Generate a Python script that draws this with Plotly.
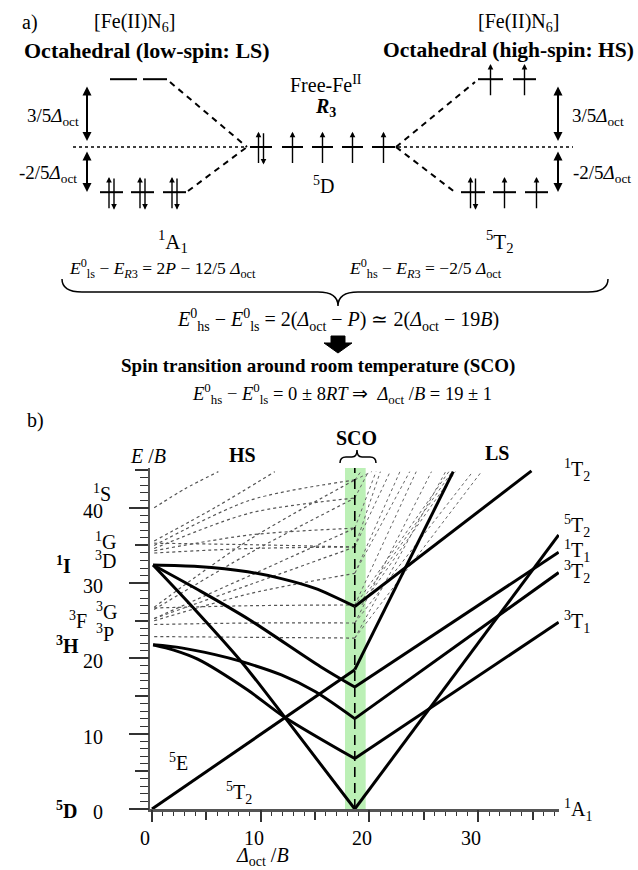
import plotly.graph_objects as go

W, H = 638, 870
SERIF = "Liberation Serif, Times New Roman, serif"

# ================= panel (b) data: E/B versus Δoct/B =================
x_major = [0, 10, 20, 30]
y_major = [0, 10, 20, 30, 40]
sco_x = 18.65
sco_band = [17.75, 19.65]

hs_5E_x = [0.0, 18.65];                       hs_5E_y = [0.0, 18.5]
ls_5E_x = [18.65, 27.7];                      ls_5E_y = [18.5, 44.8]
ls_5T2_x = [18.65, 37.4];                     ls_5T2_y = [0.0, 36.4]
hs_1A1_x = [0.1, 4.0, 8.2, 12.2, 18.65];      hs_1A1_y = [32.4, 26.4, 19.6, 12.2, 0.0]
hs_1T2_x = [0.1, 4.2, 8.8, 11.9, 15.0, 18.65]; hs_1T2_y = [32.4, 32.2, 31.5, 30.6, 29.3, 26.9]
ls_1T2_x = [18.65, 34.9];                     ls_1T2_y = [26.9, 44.9]
hs_1T1_x = [0.1, 4.5, 9.0, 15.5, 18.65];      hs_1T1_y = [32.4, 28.9, 25.1, 18.9, 16.2]
ls_1T1_x = [18.65, 37.4];                     ls_1T1_y = [16.2, 34.1]
hs_3T2_x = [0.1, 2.7, 5.8, 8.2, 11.9, 15.0, 18.65]; hs_3T2_y = [21.8, 21.4, 20.5, 19.6, 17.8, 15.6, 12.0]
ls_3T2_x = [18.65, 37.4];                     ls_3T2_y = [12.0, 31.4]
hs_3T1_x = [0.1, 2.0, 4.2, 8.8, 12.2, 18.65]; hs_3T1_y = [21.8, 21.1, 19.9, 15.8, 12.2, 6.7]
ls_3T1_x = [18.65, 37.4];                     ls_3T1_y = [6.7, 24.8]

# dotted (other) states, high-spin side
dot_hs_x = [[0.2, 3.0, 6.1], [0.2, 6.0, 11.3], [0.2, 9.0, 18.65], [0.2, 9.0, 18.65],
            [0.2, 9.0, 18.65], [0.2, 9.0, 18.65], [0.2, 9.0, 18.65], [0.2, 9.0, 18.65],
            [0.2, 9.0, 18.65], [0.2, 9.0, 18.65], [0.2, 9.0, 18.65], [0.2, 9.0, 18.65],
            [0.2, 9.0, 18.65], [0.2, 9.0, 18.65], [0.2, 9.0, 18.65]]
dot_hs_y = [[40.0, 42.5, 44.8], [35.6, 40.2, 44.8], [35.0, 41.0, 43.7], [34.6, 39.3, 41.3],
            [34.3, 36.4, 37.3], [34.0, 34.6, 34.8], [35.3, 35.1, 34.8], [26.8, 35.8, 43.7],
            [26.5, 34.0, 41.3], [25.3, 31.0, 37.3], [25.0, 28.6, 31.3], [26.7, 27.0, 27.1],
            [24.5, 24.7, 24.7], [22.9, 22.8, 22.7], [25.3, 29.8, 34.8]]
# dotted states, low-spin side
dot_ls_x = [[18.65, 19.2], [18.65, 19.9], [18.65, 20.6], [18.65, 21.0], [18.65, 21.9],
            [18.65, 22.8], [18.65, 23.7], [18.65, 24.3], [18.65, 25.7], [18.65, 27.0],
            [18.9, 27.3], [19.1, 27.6], [19.3, 27.9], [18.65, 29.5], [18.65, 30.3], [18.65, 20.2]]
dot_ls_y = [[43.7, 44.8], [41.3, 44.8], [37.3, 44.8], [34.8, 44.8], [34.8, 44.8],
            [31.3, 44.8], [31.3, 44.8], [27.1, 44.8], [24.7, 44.8], [22.7, 44.8],
            [27.5, 44.8], [27.3, 44.8], [27.1, 44.8], [24.7, 44.8], [22.7, 44.8], [43.7, 44.8]]

# ================= panel (a) data: d-orbital splitting (energies in Δoct) =================
e_eg, e_free, e_t2g = 0.6, 0.0, -0.4
ls_eg_x = [[110, 137], [143, 167]];              ls_eg_e = [0, 0]
ls_t2g_x = [[100, 123], [131, 154], [163, 186]]; ls_t2g_e = [2, 2, 2]
free_x = [[250, 272], [282, 303], [312, 333], [342, 363], [372, 395]]; free_e = [2, 1, 1, 1, 1]
hs_eg_x = [[478, 503], [513, 536]];              hs_eg_e = [1, 1]
hs_t2g_x = [[461, 485], [493, 516], [525, 548]]; hs_t2g_e = [2, 1, 1]
conn_x = [170, 247, None, 188, 247, None, 396, 475, None, 396, 455]
conn_e = [0.575, 0.0, None, -0.39, 0.0, None, 0.0, 0.575, None, 0.0, -0.4]
base_x = [73, 247, None, 398, 573]
base_e = [0.0, 0.0, None, 0.0, 0.0]
gap_arrow_x = [87, 558]
gap_spans = [[0.549, 0.053], [-0.027, -0.398]]

fig = go.Figure()

# ---------- panel b traces ----------
def line(x, y, width=3, dash=None, color="black", shape="linear", axes=("x", "y")):
    fig.add_trace(go.Scatter(x=x, y=y, mode="lines", xaxis=axes[0], yaxis=axes[1],
                             line=dict(color=color, width=width, dash=dash, shape=shape,
                                       smoothing=0.8 if shape == "spline" else None),
                             hoverinfo="skip", showlegend=False))

for xs, ys in zip(dot_hs_x, dot_hs_y):
    line(xs, ys, width=1.2, dash="dot", color="#555", shape="spline")
for xs, ys in zip(dot_ls_x, dot_ls_y):
    line(xs, ys, width=1.0, dash="dot", color="#666")

for xs, ys in [(hs_5E_x, hs_5E_y), (hs_1A1_x, hs_1A1_y), (hs_1T2_x, hs_1T2_y),
               (hs_1T1_x, hs_1T1_y), (hs_3T2_x, hs_3T2_y), (hs_3T1_x, hs_3T1_y)]:
    line(xs, ys, width=3, shape="spline")
for xs, ys in [(ls_5E_x, ls_5E_y), (ls_5T2_x, ls_5T2_y), (ls_1T2_x, ls_1T2_y),
               (ls_1T1_x, ls_1T1_y), (ls_3T2_x, ls_3T2_y), (ls_3T1_x, ls_3T1_y)]:
    line(xs, ys, width=3)

line([sco_x, sco_x], [0, 45.3], width=1.6, dash="10px,6px")

# dummy trace for overlay axes
fig.add_trace(go.Scatter(x=[None], y=[None], xaxis="x2", yaxis="y2", showlegend=False))

fig.add_shape(type="rect", xref="x", yref="y", x0=sco_band[0], x1=sco_band[1], y0=0, y1=45.3,
              fillcolor="rgb(188,240,182)", line=dict(width=0), layer="below")

# ---------- panel a traces ----------
A = ("x3", "y3")

def levels(xs, e):
    xx, yy = [], []
    for a, b in xs:
        xx += [a, b, None]
        yy += [e, e, None]
    line(xx, yy, width=2, axes=A)

for xs, e in [(ls_eg_x, e_eg), (ls_t2g_x, e_t2g), (free_x, e_free), (hs_eg_x, e_eg), (hs_t2g_x, e_t2g)]:
    levels(xs, e)
line(conn_x, conn_e, width=2, dash="6px,5px", axes=A)
line(base_x, base_e, width=1.5, dash="dot", axes=A)

def spin(xc, e, up=True):
    top, bot = e + 0.135, e - 0.155
    head, tail = (top, bot) if up else (bot, top)
    fig.add_annotation(x=xc, y=head, ax=xc, ay=tail, xref="x3", yref="y3", axref="x3", ayref="y3",
                       text="", showarrow=True, arrowhead=2, arrowsize=0.8, arrowwidth=1.4,
                       arrowcolor="black")

for xs, occ, e in [(ls_eg_x, ls_eg_e, e_eg), (ls_t2g_x, ls_t2g_e, e_t2g), (free_x, free_e, e_free),
                   (hs_eg_x, hs_eg_e, e_eg), (hs_t2g_x, hs_t2g_e, e_t2g)]:
    for (a, b), n in zip(xs, occ):
        c = (a + b) / 2
        if n == 1:
            spin(c, e, True)
        elif n == 2:
            spin(c - 2.5, e, True)
            spin(c + 2.5, e, False)

for gx in gap_arrow_x:
    for y0, y1 in gap_spans:
        fig.add_annotation(x=gx, y=y1, ax=gx, ay=y0, xref="x3", yref="y3", axref="x3", ayref="y3",
                           text="", showarrow=True, arrowhead=2, startarrowhead=2, arrowside="end+start",
                           arrowsize=0.9, startarrowsize=0.9, arrowwidth=2, arrowcolor="black")

# ---------- text ----------
def label(text, px, py, size=18, xanchor="center", color="black"):
    fig.add_annotation(text=text, x=px / W, y=1 - py / H, xref="paper", yref="paper", showarrow=False,
                       font=dict(family=SERIF, size=size, color=color), xanchor=xanchor, yanchor="middle")

D = "<i>Δ</i><sub>oct</sub>"
label("a)", 30, 22, 20)
label("[Fe(II)N<sub>6</sub>]", 134, 22, 20)
label("[Fe(II)N<sub>6</sub>]", 518, 22, 20)
label("<b>Octahedral (low-spin: LS)</b>", 147, 50, 22)
label("<b>Octahedral (high-spin: HS)</b>", 508, 50, 21.5)
label("Free-Fe<sup>II</sup>", 326, 84, 20)
label("<b><i>R</i><sub>3</sub></b>", 325, 107, 20)
label("<sup>5</sup>D", 323, 185, 20)
label("3/5" + D, 53, 117, 19)
label("-2/5" + D, 48, 174, 19)
label("3/5" + D, 598, 117, 19)
label("-2/5" + D, 602, 174, 19)
label("<sup>1</sup>A<sub>1</sub>", 173, 241, 21)
label("<sup>5</sup>T<sub>2</sub>", 500, 241, 21)
label("<i>E</i><sup>0</sup><sub>ls</sub> − <i>E</i><sub><i>R</i>3</sub> = 2<i>P</i> − 12/5 " + D, 162, 268, 17.5)
label("<i>E</i><sup>0</sup><sub>hs</sub> − <i>E</i><sub><i>R</i>3</sub> = −2/5 " + D, 425, 268, 17.5)
label("<i>E</i><sup>0</sup><sub>hs</sub> − <i>E</i><sup>0</sup><sub>ls</sub> = 2(" + D + " − <i>P</i>) ≃ 2(" + D + " − 19<i>B</i>)", 338, 320, 20)
label("<b>Spin transition around room temperature (SCO)</b>", 318, 366, 19)
label("<i>E</i><sup>0</sup><sub>hs</sub> − <i>E</i><sup>0</sup><sub>ls</sub> = 0 ± 8<i>RT</i> ⇒  " + D + " /<i>B</i> = 19 ± 1", 342, 393, 18.5)

label("b)", 35, 420, 20)
label("<i>E</i> /<i>B</i>", 148, 456, 20)
label("<b>HS</b>", 242, 455, 20)
label("<b>SCO</b>", 356, 438, 20)
label("<b>LS</b>", 497, 453, 20)
label("<i>Δ</i><sub>oct</sub> /<i>B</i>", 262, 856, 20)
for t, py in [("<sup>1</sup>T<sub>2</sub>", 470), ("<sup>5</sup>T<sub>2</sub>", 526), ("<sup>1</sup>T<sub>1</sub>", 551),
              ("<sup>3</sup>T<sub>2</sub>", 572), ("<sup>3</sup>T<sub>1</sub>", 622), ("<sup>1</sup>A<sub>1</sub>", 810)]:
    label(t, 562, py, 20, xanchor="left")
for t, px, py in [("<sup>1</sup>S", 102, 493), ("<sup>1</sup>G", 105, 541), ("<sup>3</sup>D", 105, 560),
                  ("<b><sup>1</sup>I</b>", 63, 565), ("<sup>3</sup>F", 78, 620), ("<sup>3</sup>G", 106, 611),
                  ("<sup>3</sup>P", 105, 633), ("<b><sup>3</sup>H</b>", 67, 645), ("<b><sup>5</sup>D</b>", 66, 810),
                  ("<sup>5</sup>E", 178, 762), ("<sup>5</sup>T<sub>2</sub>", 239, 793)]:
    label(t, px, py, 20)

# tick labels placed through the axis scales
for v in y_major:
    fig.add_annotation(text=str(v), x=105 / W, xref="paper", y=v, yref="y", xanchor="right",
                       yanchor="middle", yshift=-3, showarrow=False,
                       font=dict(family=SERIF, size=20, color="black"))
for v in x_major:
    fig.add_annotation(text=str(v), x=v, xref="x", y=1 - 838 / H, yref="paper", xanchor="center",
                       yanchor="middle", xshift=-7, showarrow=False,
                       font=dict(family=SERIF, size=20, color="black"))

# ---------- decorative shapes (paper coords from pixel positions) ----------
def pp(px, py):
    return f"{px / W:.5f},{1 - py / H:.5f}"

brace = ("M " + pp(62, 279) + " Q " + pp(62, 292) + " " + pp(82, 292) + " L " + pp(318, 292) +
         " Q " + pp(338, 292) + " " + pp(338, 306) + " Q " + pp(338, 292) + " " + pp(358, 292) +
         " L " + pp(588, 292) + " Q " + pp(608, 292) + " " + pp(608, 279))
fig.add_shape(type="path", path=brace, xref="paper", yref="paper", line=dict(color="black", width=1.5))
blk = ("M " + pp(331, 336) + " L " + pp(345, 336) + " L " + pp(345, 343) + " L " + pp(352, 343) +
       " L " + pp(338, 353) + " L " + pp(324, 343) + " L " + pp(331, 343) + " Z")
fig.add_shape(type="path", path=blk, xref="paper", yref="paper", fillcolor="black", line=dict(color="black", width=1))
brk = ("M " + pp(340, 463) + " Q " + pp(340, 457) + " " + pp(346, 457) + " L " + pp(352, 457) +
       " Q " + pp(357, 457) + " " + pp(357, 450) + " Q " + pp(357, 457) + " " + pp(362, 457) +
       " L " + pp(370, 457) + " Q " + pp(376, 457) + " " + pp(376, 463))
fig.add_shape(type="path", path=brk, xref="paper", yref="paper", line=dict(color="black", width=1.5))

# ---------- axes ----------
xdom = [150 / W, 559 / W]
xr = [-0.184, 37.43]
ydom = [61 / H, (H - 467.9) / H]
yr = [0, 45.3]

fig.update_layout(
    width=W, height=H, margin=dict(l=0, r=0, t=0, b=0),
    paper_bgcolor="white", plot_bgcolor="rgba(0,0,0,0)", showlegend=False,
    xaxis=dict(domain=xdom, range=xr, anchor="y", showline=True, linewidth=3, linecolor="#555",
               ticks="outside", tickmode="linear", tick0=0, dtick=5, ticklen=8, tickwidth=1.5,
               tickcolor="#333", showticklabels=False, showgrid=False, zeroline=False,
               minor=dict(ticks="outside", tickmode="linear", tick0=0, dtick=1, ticklen=4,
                          tickwidth=1.2, tickcolor="#333", showgrid=False)),
    xaxis2=dict(domain=xdom, range=xr, overlaying="x", anchor="y2", side="bottom", showline=False,
                ticks="outside", tickmode="array", tickvals=x_major, ticklen=12, tickwidth=1.5,
                tickcolor="#333", showticklabels=False, showgrid=False, zeroline=False),
    yaxis=dict(domain=ydom, range=yr, anchor="x", showline=True, linewidth=2, linecolor="#555",
               ticks="outside", tickmode="linear", tick0=0, dtick=5, ticklen=13, tickwidth=1.5,
               tickcolor="#333", showticklabels=False, showgrid=False, zeroline=False,
               minor=dict(ticks="outside", tickmode="linear", tick0=0, dtick=1, ticklen=8,
                          tickwidth=1.2, tickcolor="#333", showgrid=False)),
    yaxis2=dict(domain=ydom, range=yr, overlaying="y", anchor="x2", side="left", showline=False,
                ticks="outside", tickmode="array", tickvals=y_major, ticklen=20, tickwidth=1.5,
                tickcolor="#333", showticklabels=False, showgrid=False, zeroline=False),
    xaxis3=dict(domain=[0, 1], range=[0, W], anchor="y3", visible=False, fixedrange=True),
    yaxis3=dict(domain=[0, 1], range=[(147 - H) / 113, 147 / 113], anchor="x3", visible=False, fixedrange=True),
)

fig.write_html("out.html", config={"displayModeBar": False},
               post_script="document.body.style.margin='0';document.body.style.overflow='hidden';")
